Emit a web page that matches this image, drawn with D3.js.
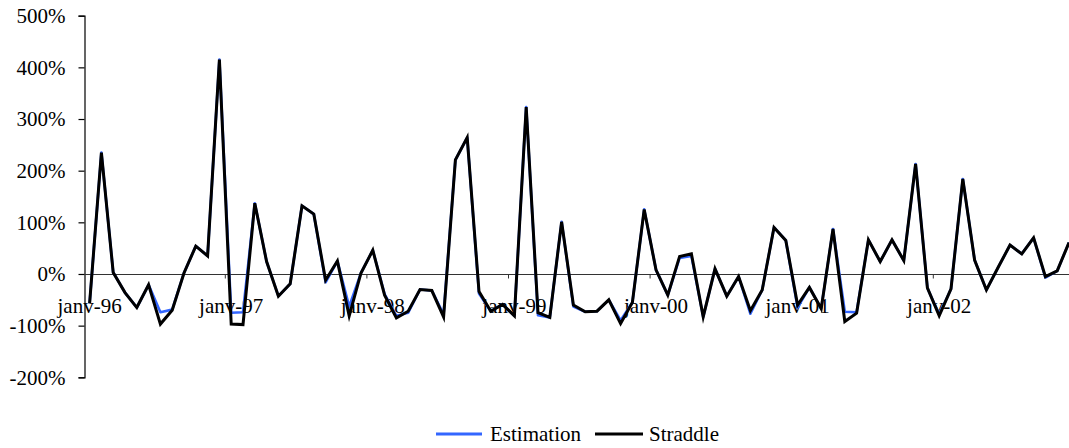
<!DOCTYPE html>
<html>
<head>
<meta charset="utf-8">
<script src="https://cdn.jsdelivr.net/npm/d3@7"></script>
<style>
  html, body { margin: 0; padding: 0; background: #fff; }
  svg { display: block; }
</style>
</head>
<body>
<svg id="chart" width="1069" height="448"></svg>
<script>
// Month names and years used to build the monthly category labels
const monthNames = ["janv", "févr", "mars", "avr", "mai", "juin", "juil", "août", "sept", "oct", "nov", "déc"];
const years = ["96", "97", "98", "99", "00", "01", "02"];
const categories = years.flatMap(y => monthNames.map(m => `${m}-${y}`));

// Monthly returns (in %)
const straddle = [
  -57, 235, 3, -36, -65, -21, -97, -70, 2, 54, 35, 415,
  -97, -98, 137, 24, -43, -19, 132, 116, -12, 25, -81, 2,
  46, -41, -85, -72, -30, -32, -83, 221, 264, -34, -72, -59,
  -81, 323, -75, -84, 101, -60, -73, -72, -50, -96, -55, 125,
  8, -41, 34, 39, -83, 10, -43, -5, -71, -31, 90, 65,
  -60, -26, -67, 87, -92, -76, 66, 24, 66, 26, 213, -27,
  -81, -29, 184, 27, -31, 13, 56, 39, 70, -5, 6, 61
];
const estimation = [
  -57, 235, 3, -36, -65, -21, -74, -69, 2, 54, 35, 415,
  -75, -74, 137, 24, -43, -19, 132, 116, -16, 25, -63, 2,
  46, -39, -81, -75, -30, -32, -78, 221, 264, -38, -72, -59,
  -81, 323, -80, -84, 101, -63, -73, -72, -50, -90, -55, 125,
  8, -41, 31, 35, -83, 10, -43, -5, -77, -31, 90, 65,
  -65, -26, -67, 87, -73, -74, 66, 24, 66, 26, 213, -27,
  -79, -29, 184, 27, -31, 13, 56, 39, 70, -7, 6, 61
];

// Axis tick values (in %)
const yTicks = [-200, -100, 0, 100, 200, 300, 400, 500];
const seriesNames = ["Estimation", "Straddle"];
const seriesColors = ["#3366ff", "#000000"];

const FONT = "'Liberation Serif'";
const FONT_SIZE = "21px";
const styleText = sel => sel
  .attr("font-family", "Liberation Serif")
  .style("font-family", FONT)
  .style("font-size", FONT_SIZE)
  .style("fill", "#000");

const svg = d3.select("#chart");

const x = d3.scaleBand()
  .domain(categories)
  .range([83.7, 83.7 + categories.length * 11.8])
  .paddingInner(0).paddingOuter(0);
const y = d3.scaleLinear().domain([-200, 500]).range([377.3, 15.7]);
const cx = d => x(d) + x.bandwidth() / 2;

// Y axis
const yAxis = svg.append("g").attr("transform", "translate(84.5,0)")
  .call(d3.axisLeft(y).tickValues(yTicks).tickSize(6).tickPadding(13)
    .tickFormat(d => d + "%"));
yAxis.attr("font-family", null).attr("font-size", null);
yAxis.select(".domain").attr("stroke", "#000").attr("stroke-width", 1.2);
yAxis.selectAll(".tick line").attr("stroke", "#000").attr("stroke-width", 1.2);
yAxis.selectAll(".tick text").call(styleText).attr("dy", "0.33em");

// Zero line with yearly category ticks
const zeroY = Math.round(y(0)) + 0.5;
svg.append("line")
  .attr("x1", 84.5).attr("x2", 1069)
  .attr("y1", zeroY).attr("y2", zeroY)
  .attr("stroke", "#333").attr("stroke-width", 1.2);

const januaries = categories.filter(c => c.startsWith("janv"));
svg.append("g").selectAll("line")
  .data(januaries.slice(1))
  .join("line")
  .attr("x1", d => x(d)).attr("x2", d => x(d))
  .attr("y1", zeroY).attr("y2", zeroY + 4)
  .attr("stroke", "#333").attr("stroke-width", 1);

svg.append("g").selectAll("text")
  .data(januaries)
  .join("text")
  .attr("x", d => cx(d))
  .attr("y", 313)
  .attr("text-anchor", "middle")
  .call(styleText)
  .text(d => d);

// Series lines
const line = d3.line()
  .x((d, i) => cx(categories[i]))
  .y(d => y(d));

svg.append("path")
  .datum(estimation)
  .attr("d", line)
  .attr("fill", "none")
  .attr("stroke", seriesColors[0])
  .attr("stroke-width", 2.6)
  .attr("stroke-linejoin", "round");

svg.append("path")
  .datum(straddle)
  .attr("d", line)
  .attr("fill", "none")
  .attr("stroke", seriesColors[1])
  .attr("stroke-width", 3)
  .attr("stroke-linejoin", "miter")
  .attr("stroke-miterlimit", 6);

// Legend
const legendItems = [
  { name: seriesNames[0], color: seriesColors[0], x1: 436, x2: 482, tx: 490 },
  { name: seriesNames[1], color: seriesColors[1], x1: 595, x2: 643, tx: 649 }
];
const lg = svg.append("g");
lg.selectAll("line").data(legendItems).join("line")
  .attr("x1", d => d.x1).attr("x2", d => d.x2)
  .attr("y1", 434).attr("y2", 434)
  .attr("stroke", d => d.color).attr("stroke-width", 3);
lg.selectAll("text").data(legendItems).join("text")
  .attr("x", d => d.tx).attr("y", 441)
  .call(styleText)
  .text(d => d.name);
</script>
</body>
</html>
